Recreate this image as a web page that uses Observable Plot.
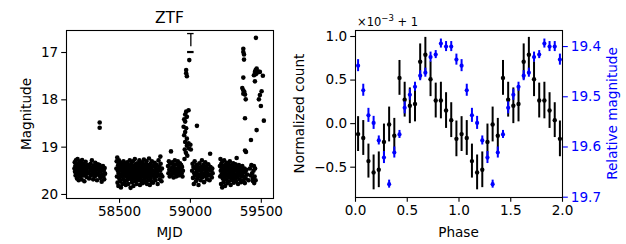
<!DOCTYPE html>
<html><head><meta charset="utf-8">
<script src="https://cdn.jsdelivr.net/npm/d3@7"></script>
<script src="https://cdn.jsdelivr.net/npm/@observablehq/plot@0.6"></script>
<style>
body{margin:0;background:#fff;}
#root{position:relative;width:626px;height:244px;overflow:hidden;background:#fff;font-family:"DejaVu Sans";}
#root svg{position:absolute;left:0;top:0;}
</style></head><body><div id="root"></div>
<script>
// ---------- Left panel: ZTF light curve (MJD, magnitude) ----------
const season1 = [[58182,19.45],[58184,19.32],[58186,19.52],[58188,19.40],[58190,19.60],[58192,19.28],[58194,19.47],[58196,19.55],[58198,19.36],[58200,19.66],[58202,19.43],[58204,19.25],[58206,19.50],[58208,19.58],[58210,19.38],[58212,19.70],[58214,19.46],[58216,19.33],[58218,19.55],[58220,19.42],[58222,19.62],[58224,19.30],[58226,19.49],[58228,19.57],[58230,19.37],[58232,19.68],[58234,19.44],[58236,19.27],[58238,19.53],[58240,19.41],[58243,19.60],[58246,19.35],[58249,19.48],[58252,19.72],[58255,19.40],[58258,19.56],[58261,19.31],[58264,19.50],[58267,19.63],[58270,19.45],[58275,19.38],[58280,19.55],[58285,19.66],[58290,19.42],[58293,19.50],[58296,19.35],[58299,19.60],[58302,19.46],[58305,19.28],[58308,19.55],[58311,19.43],[58314,19.68],[58317,19.39],[58320,19.52],[58323,19.45],[58326,19.62],[58329,19.33],[58332,19.50],[58335,19.57],[58338,19.41],[58341,19.70],[58344,19.47],[58347,19.36],[58350,19.55],[58353,19.44],[58356,19.60],[58359,19.38],[58362,19.52],[58365,19.65],[58368,19.42],[58371,19.50],[58374,19.73],[58377,19.45],[58380,19.58],[58383,19.40],[58386,19.62],[58389,19.50],[58392,19.68],[58395,19.44],[58398,19.56]];
const season1Flare = [[58360,18.48],[58360,18.59]];
const season2 = [[58478,19.45],[58480,19.30],[58482,19.62],[58484,19.22],[58486,19.75],[58488,19.50],[58490,19.38],[58492,19.82],[58494,19.55],[58496,19.28],[58498,19.66],[58500,19.45],[58502,19.35],[58504,19.72],[58506,19.58],[58508,19.42],[58510,19.85],[58512,19.50],[58514,19.33],[58516,19.62],[58518,19.47],[58520,19.78],[58522,19.40],[58524,19.55],[58526,19.68],[58528,19.30],[58530,19.52],[58532,19.60],[58534,19.44],[58536,19.75],[58538,19.36],[58540,19.58],[58542,19.48],[58544,19.80],[58546,19.62],[58548,19.40],[58550,19.54],[58552,19.70],[58554,19.32],[58556,19.50],[58558,19.64],[58560,19.45],[58562,19.78],[58564,19.38],[58566,19.56],[58568,19.47],[58570,19.66],[58572,19.28],[58574,19.60],[58576,19.52],[58578,19.86],[58580,19.42],[58582,19.68],[58584,19.35],[58586,19.55],[58588,19.74],[58590,19.46],[58592,19.62],[58594,19.30],[58596,19.50],[58598,19.82],[58600,19.58],[58602,19.40],[58604,19.66],[58606,19.48],[58608,19.25],[58610,19.72],[58612,19.55],[58614,19.36],[58616,19.60],[58618,19.45],[58620,19.78],[58622,19.52],[58624,19.34],[58626,19.65],[58628,19.42],[58630,19.58],[58632,19.70],[58634,19.38],[58636,19.50],[58638,19.62],[58640,19.28],[58642,19.55],[58644,19.80],[58646,19.44],[58648,19.66],[58650,19.35],[58652,19.52],[58654,19.72],[58656,19.46],[58658,19.60],[58660,19.32],[58662,19.56],[58664,19.76],[58666,19.40],[58668,19.62],[58670,19.50],[58672,19.26],[58674,19.68],[58676,19.45],[58678,19.58],[58680,19.36],[58682,19.74],[58684,19.52],[58686,19.42],[58688,19.64],[58690,19.30],[58692,19.55],[58694,19.78],[58696,19.48],[58698,19.60],[58700,19.38],[58702,19.70],[58704,19.45],[58706,19.56],[58708,19.24],[58710,19.62],[58712,19.50],[58714,19.80],[58716,19.42],[58718,19.66],[58720,19.35],[58722,19.54],[58724,19.72],[58726,19.46],[58728,19.30],[58730,19.60],[58733,19.50],[58736,19.75],[58739,19.40],[58742,19.58],[58745,19.65],[58748,19.33],[58751,19.52],[58754,19.70],[58757,19.45],[58760,19.62],[58763,19.38],[58766,19.55],[58769,19.78],[58772,19.48],[58775,19.28],[58778,19.60],[58781,19.42],[58784,19.68],[58787,19.50],[58788,19.20],[58790,19.35],[58793,19.58],[58796,19.72],[58799,19.45],[58802,19.62]];
const season3Pre = [[58842,19.40],[58845,19.55],[58848,19.30],[58851,19.48],[58854,19.62],[58857,19.35],[58860,19.50],[58863,19.09],[58866,19.44],[58869,19.58],[58872,19.32],[58875,19.52],[58878,19.42],[58881,19.64],[58884,19.38],[58887,19.50],[58890,19.28],[58893,19.56],[58896,19.45],[58899,19.62],[58902,19.36],[58905,19.48],[58908,19.55],[58911,19.30],[58914,19.44],[58917,19.60],[58920,19.40],[58923,19.52],[58926,19.34],[58929,19.58],[58932,19.46],[58935,19.38],[58938,19.55],[58941,19.42],[58944,19.62],[58947,19.50]];
const outburst1 = [[58952,18.57],[58956,18.41],[58956,18.75],[58963,18.31],[58963,18.46],[58963,18.68],[58963,18.89],[58970,18.25],[58970,18.60],[58975,18.36],[58975,18.82],[58975,18.97],[58987,18.22],[58987,18.92],[58970,17.37],[58970,17.44],[58975,17.50],[58992,17.16],[58960,19.05],[58968,19.12],[58978,19.18],[58990,19.03],[59000,18.95],[59003,19.05],[58958,19.25],[59046,18.55]];
const season3Post = [[59012,19.50],[59015,19.35],[59018,19.65],[59021,19.42],[59024,19.78],[59027,19.55],[59030,19.30],[59033,19.60],[59036,19.45],[59039,19.72],[59042,19.38],[59045,19.52],[59048,19.66],[59051,19.40],[59054,19.58],[59057,19.80],[59060,19.46],[59063,19.34],[59066,19.62],[59069,19.50],[59072,19.70],[59075,19.42],[59078,19.56],[59081,19.28],[59084,19.64],[59087,19.48],[59090,19.38],[59093,19.58],[59096,19.74],[59099,19.44],[59102,19.55],[59105,19.32],[59108,19.62],[59111,19.50],[59114,19.40],[59117,19.68],[59120,19.46],[59123,19.56],[59126,19.36],[59129,19.60],[59132,19.48],[59135,19.70],[59139,19.14],[59142,19.42],[59145,19.58],[59148,19.50],[59151,19.64],[59154,19.45],[59157,19.55]];
const season4 = [[59208,19.40],[59210,19.62],[59212,19.25],[59214,19.50],[59216,19.78],[59218,19.35],[59220,19.58],[59222,19.45],[59224,19.85],[59226,19.30],[59228,19.66],[59230,19.52],[59232,19.40],[59234,19.74],[59236,19.56],[59238,19.28],[59240,19.62],[59242,19.46],[59244,19.82],[59246,19.38],[59248,19.55],[59250,19.68],[59252,19.42],[59254,19.60],[59256,19.33],[59258,19.50],[59260,19.76],[59262,19.45],[59264,19.58],[59266,19.36],[59268,19.64],[59270,19.48],[59272,19.72],[59274,19.40],[59276,19.55],[59278,19.30],[59280,19.62],[59282,19.50],[59284,19.80],[59286,19.44],[59288,19.58],[59290,19.66],[59292,19.38],[59294,19.52],[59296,19.70],[59298,19.42],[59300,19.60],[59302,19.34],[59304,19.55],[59306,19.75],[59308,19.46],[59310,19.62],[59312,19.40],[59314,19.68],[59316,19.50],[59318,19.36],[59320,19.58],[59322,19.72],[59326,19.23],[59328,19.48],[59330,19.64],[59332,19.42],[59334,19.55],[59336,19.78],[59338,19.45],[59340,19.60],[59342,19.38],[59345,19.52],[59348,19.68],[59351,19.44],[59354,19.58],[59357,19.74],[59360,19.48],[59363,19.62],[59366,19.40],[59369,19.55],[59372,19.70],[59375,19.50],[59378,19.62],[59381,19.45],[59384,19.76],[59387,19.52],[59390,19.66],[59395,19.48],[59400,19.58],[59410,19.70],[59420,19.45],[59425,19.60],[59430,19.38],[59435,19.55],[59440,19.66],[59442,19.72],[59445,19.50],[59448,19.40],[59450,19.76],[59453,19.62],[59456,19.45],[59460,19.70]];
const outburst2 = [[59462,16.69],[59373,16.92],[59373,16.99],[59378,17.04],[59378,17.15],[59467,17.34],[59460,17.37],[59471,17.40],[59455,17.41],[59478,17.40],[59467,17.44],[59460,17.46],[59490,17.41],[59448,17.48],[59511,17.49],[59455,17.61],[59373,17.53],[59366,17.75],[59373,17.80],[59380,17.83],[59373,17.87],[59385,17.89],[59390,17.99],[59502,17.82],[59490,17.90],[59483,17.99],[59497,18.13],[59385,18.39],[59518,18.44],[59467,18.64],[59427,18.85],[59392,19.10],[59385,19.07]];
// trigger marker: MJD, cap magnitude, bar end, "_" marker
const trigger = [{mjd: 59003, cap: 16.60, barEnd: 16.88, mark: 16.99}];
const mjdTicks = [58500, 59000, 59500];
const magTicks = [17, 18, 19, 20];

// ---------- Right panel: phase-folded ----------
const phaseBins = [0.025,0.075,0.125,0.175,0.225,0.275,0.325,0.375,0.425,0.475,0.525,0.575,0.625,0.675,0.725,0.775,0.825,0.875,0.925,0.975];
const cycles = [0, 1];
const normCount = [-0.12,-0.165,-0.43,-0.56,-0.53,-0.21,-0.01,-0.14,0.525,0.275,0.205,0.225,0.71,0.79,0.51,0.265,0.265,0.15,0.04,-0.175];
const normCountErr = [0.20,0.20,0.195,0.20,0.205,0.205,0.20,0.20,0.20,0.20,0.205,0.205,0.205,0.20,0.20,0.20,0.21,0.205,0.20,0.205];
const relMag = [19.438,19.487,19.537,19.552,19.587,19.621,19.674,19.611,19.575,19.522,19.496,19.480,19.458,19.452,19.421,19.416,19.394,19.400,19.400,19.426];
const relMagErr = [0.012,0.012,0.014,0.013,0.009,0.012,0.008,0.011,0.008,0.012,0.011,0.009,0.010,0.009,0.010,0.008,0.009,0.010,0.010,0.011];
const phaseTicks = [0, 0.5, 1.0, 1.5, 2.0];
const countTicks = [-0.5, 0, 0.5, 1.0];
const relMagTicks = [19.4, 19.5, 19.6, 19.7];

const FONT = "DejaVu Sans";
const FS = 13.6;
const minus = s => s.replace("-", "\u2212");
const root = document.getElementById("root");

const lc = [season1, season1Flare, season2, season3Pre, outburst1, season3Post, season4, outburst2]
  .flat().map(([mjd, mag]) => ({mjd, mag}));

const baseStyle = {fontFamily: FONT, fontSize: FS + "px", background: "none", overflow: "visible", color: "black"};

const left = Plot.plot({
  width: 300, height: 244,
  marginLeft: 66, marginRight: 27, marginTop: 30, marginBottom: 46,
  style: baseStyle,
  x: {domain: [58126, 59586]},
  y: {domain: [16.535, 20.085], reverse: true},
  marks: [
    Plot.axisX({ticks: mjdTicks, tickFormat: d => String(d), tickSize: 4.8, tickPadding: 3.5, strokeWidth: 1.1, label: null}),
    Plot.axisY({ticks: magTicks, tickFormat: d => String(d), tickSize: 4.8, tickPadding: 3.5, strokeWidth: 1.1, label: null}),
    Plot.dot(lc, {x: "mjd", y: "mag", r: 2.3, fill: "black", stroke: "none"}),
    Plot.ruleX(trigger, {x: "mjd", y1: "cap", y2: "barEnd", stroke: "black", strokeWidth: 1.3}),
    Plot.ruleY(trigger, {y: "cap", x1: d => d.mjd - 23, x2: d => d.mjd + 23, stroke: "black", strokeWidth: 1.3}),
    Plot.ruleY(trigger, {y: "mark", x1: d => d.mjd - 23, x2: d => d.mjd + 23, stroke: "black", strokeWidth: 2.2}),
    Plot.frame({stroke: "black", strokeWidth: 1.1})
  ]
});
left.style.left = "0px";
root.appendChild(left);

const folded = cycles.flatMap(c => phaseBins.map((p, i) => ({
  phase: p + c, v: normCount[i], e: normCountErr[i], m: relMag[i], me: relMagErr[i]
})));

const rightGeom = {width: 326, height: 244, marginLeft: 55, marginRight: 64, marginTop: 30, marginBottom: 47};

const right = Plot.plot({
  ...rightGeom,
  style: baseStyle,
  x: {domain: [0, 2]},
  y: {domain: [-0.848, 1.069]},
  marks: [
    Plot.axisX({ticks: phaseTicks, tickFormat: d => d.toFixed(1), tickSize: 4.8, tickPadding: 3.5, strokeWidth: 1.1, label: null}),
    Plot.axisY({ticks: countTicks, tickFormat: d => minus(d.toFixed(1)), tickSize: 4.8, tickPadding: 3.5, strokeWidth: 1.1, label: null}),
    Plot.ruleX(folded, {x: "phase", y1: d => d.v - d.e, y2: d => d.v + d.e, stroke: "black", strokeWidth: 2}),
    Plot.dot(folded, {x: "phase", y: "v", r: 2.2, fill: "black", stroke: "none"}),
    Plot.frame({stroke: "black", strokeWidth: 1.1})
  ]
});
right.style.left = "300px";
root.appendChild(right);

const twin = Plot.plot({
  ...rightGeom,
  style: baseStyle,
  x: {domain: [0, 2], axis: null},
  y: {domain: [19.368, 19.7006], reverse: true},
  marks: [
    Plot.axisY({anchor: "right", ticks: relMagTicks, tickFormat: d => d.toFixed(1), tickSize: 4.8, tickPadding: 3.5, strokeWidth: 1.1, color: "blue", label: null}),
    Plot.ruleX(folded, {x: "phase", y1: d => d.m - d.me, y2: d => d.m + d.me, stroke: "blue", strokeWidth: 2}),
    Plot.dot(folded, {x: "phase", y: "m", r: 2.1, fill: "blue", stroke: "none"})
  ]
});
twin.style.left = "300px";
root.appendChild(twin);

// labels and titles
const ns = "http://www.w3.org/2000/svg";
const lab = d3.select(root).append("svg").attr("width", 626).attr("height", 244)
  .style("font-family", FONT).style("pointer-events", "none");
function txt(x, y, s, opts = {}) {
  const t = lab.append("text").attr("x", x).attr("y", y).attr("text-anchor", opts.anchor || "middle")
    .attr("font-size", opts.size || FS).attr("fill", opts.fill || "black").text(s);
  if (opts.rot) t.attr("transform", `rotate(${opts.rot},${x},${y})`);
  return t;
}
txt(169.5, 22.5, "ZTF", {size: 15.5});
txt(169.5, 236.5, "MJD");
txt(31, 114, "Magnitude", {rot: -90});
txt(458.5, 236.5, "Phase");
txt(304, 113.5, "Normalized count", {rot: -90});
txt(617, 113.5, "Relative magnitude", {rot: -90, fill: "blue"});
const off = lab.append("text").attr("x", 357).attr("y", 25.5).attr("font-size", 11.5).attr("fill", "black");
off.append("tspan").text("\u00d710");
off.append("tspan").attr("dy", -5).attr("font-size", 8.5).text("\u22123");
off.append("tspan").attr("dy", 5).text(" + 1");
</script></body></html>
